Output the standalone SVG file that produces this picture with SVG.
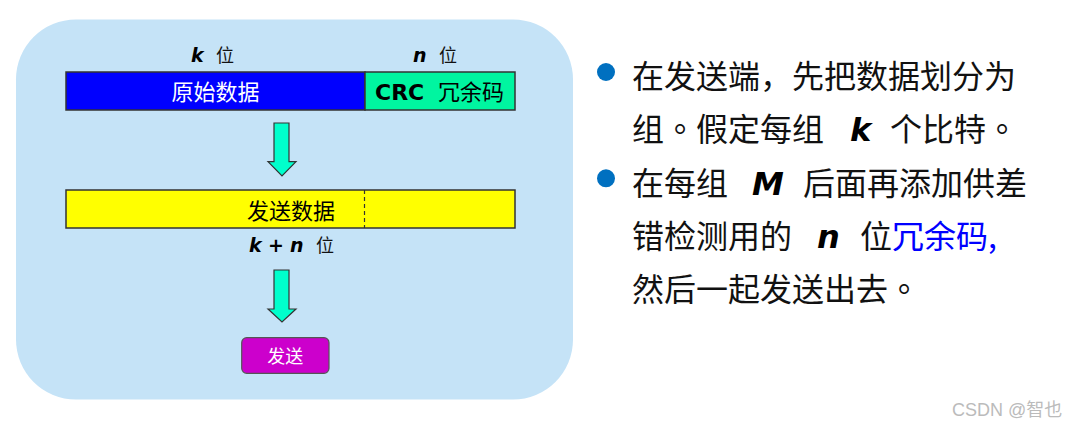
<svg xmlns="http://www.w3.org/2000/svg" width="1074" height="423" viewBox="0 0 1074 423">
<style>
.cjk{font-family:"Noto Sans CJK SC","Noto Sans",sans-serif;}
.tc{font-family:"Noto Sans CJK TC","Noto Sans CJK SC",sans-serif;}
.var{font-family:"DejaVu Sans",sans-serif;font-weight:bold;font-style:italic;}
.box{stroke:#333;stroke-width:1.5;}
.arrow{fill:#00FFCC;stroke:#333;stroke-width:1.2;}
.body{font-size:32px;fill:#111;}
</style>
<rect width="1074" height="423" fill="#FFFFFF"/>
<rect id="panel" x="16" y="19.5" width="557" height="380" rx="60" fill="#C5E3F7"/>

<g id="label-k">
<text class="var" x="191" y="62" font-size="19">k</text>
<text class="cjk" x="216" y="62" font-size="18" fill="#111">位</text>
</g>
<g id="label-n">
<text class="var" x="413" y="62" font-size="19">n</text>
<text class="cjk" x="439" y="62" font-size="18" fill="#111">位</text>
</g>

<g id="original-data">
<rect class="box" x="66" y="72" width="299" height="38" fill="#0000FF"/>
<text class="cjk" x="215.5" y="100" font-size="22" fill="#FFFFFF" text-anchor="middle">原始数据</text>
</g>
<g id="crc">
<rect class="box" x="365" y="72" width="150" height="38" fill="#00F5A0"/>
<text x="375" y="100" font-size="22" font-family="DejaVu Sans,sans-serif" font-weight="bold" fill="#000">CRC</text>
<text class="cjk" x="438" y="100" font-size="22" fill="#000">冗余码</text>
</g>

<g id="connectors">
<polygon class="arrow" points="274,123 289,123 289,161.7 296,161.7 282,176 268,161.7 274,161.7"/>
<polygon class="arrow" points="274,270 289,270 289,309 296,309 282,322 268,309 274,309"/>
</g>

<g id="send-data">
<rect class="box" x="66" y="190" width="449" height="38" fill="#FFFF00"/>
<line x1="364.5" y1="190" x2="364.5" y2="228" stroke="#333" stroke-width="1.2" stroke-dasharray="4,3"/>
<text class="cjk" x="247" y="219" font-size="22" fill="#000">发送数据</text>
</g>
<g id="label-kn">
<text class="var" x="249" y="251.5" font-size="19">k</text>
<text x="268" y="251.5" font-size="19" font-family="DejaVu Sans,sans-serif" font-weight="bold" fill="#000">+</text>
<text class="var" x="290" y="251.5" font-size="19">n</text>
<text class="cjk" x="316" y="251.5" font-size="18" fill="#111">位</text>
</g>

<g id="send">
<rect x="241.7" y="337.7" width="87.3" height="35.6" rx="5" fill="#CC00CC" stroke="#555" stroke-width="1.2"/>
<text class="cjk" x="285.3" y="363" font-size="18" fill="#FFFFFF" text-anchor="middle">发送</text>
</g>

<g id="bullets">
<circle cx="606" cy="72" r="9" fill="#0070C0"/>
<circle cx="606" cy="178.3" r="9" fill="#0070C0"/>
<text class="cjk body" x="632" y="88">在发送端，先把数据划分为</text>
<text class="cjk body" x="632" y="141.3">组<tspan class="tc">。</tspan>假定每组</text>
<text class="var" x="850" y="141.3" font-size="32">k</text>
<text class="cjk body" x="890" y="141.3">个比特<tspan class="tc">。</tspan></text>
<text class="cjk body" x="632" y="194.6">在每组</text>
<text class="var" x="752" y="194.6" font-size="32">M</text>
<text class="cjk body" x="803" y="194.6">后面再添加供差</text>
<text class="cjk body" x="632" y="248">错检测用的</text>
<text class="var" x="817" y="248" font-size="32">n</text>
<text class="cjk body" x="860" y="248">位</text>
<text class="cjk" x="892" y="248" font-size="32" fill="#0000FF">冗余码,</text>
<text class="cjk body" x="632" y="301">然后一起发送出去<tspan class="tc">。</tspan></text>
</g>

<text x="952" y="416" font-size="18" font-family="Liberation Sans,Noto Sans CJK SC,sans-serif" fill="#BBBBBB">CSDN @智也</text>
</svg>
